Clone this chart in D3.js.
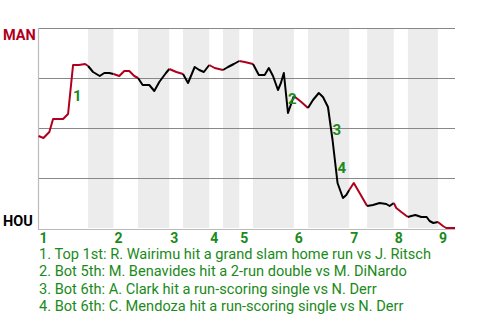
<!DOCTYPE html>
<head>
    <meta charset="utf-8">
    <title>Win probability</title>
    <style>
        body { margin: 0; background: #fff; }
        svg { display: block; font-family: Roboto, "Noto Sans", sans-serif; }
    </style>
</head>

<body>

<svg width="480" height="320"></svg>

<script src="https://d3js.org/d3.v7.min.js"></script>

<script>

    // teams: away at the top, home at the bottom
    var awayTeam = "MAN",
        homeTeam = "HOU";

    // game progress where each half inning starts (top 1st, bot 1st, ... top 9th, end)
    var halfStarts = [0, 11.9, 18.0, 23.9, 31.4, 34.7, 41.0, 44.3, 48.2, 51.5,
                      61.3, 64.7, 74.6, 78.9, 85.3, 88.7, 95.9, 100];

    var inningLabels = ["1", "2", "3", "4", "5", "6", "7", "8", "9"];

    // game progress of each point on the line
    var progress = [
        0, 1.2, 2.6, 3.5, 5.9, 7.1, 8.3, 9.7, 11.2, 11.9,
        13.1, 14.7, 15.8, 17.0, 18.0,
        19.4, 20.6, 21.8, 23.0, 23.9,
        25.0, 26.6, 27.8, 29.0, 30.6, 31.4,
        33.1, 34.7,
        35.9, 37.5, 38.6, 39.7, 41.0,
        42.3, 44.3,
        45.5, 46.9, 48.2,
        49.5, 51.5,
        52.9, 54.3, 55.3, 56.3, 57.5, 58.2, 58.9, 59.9, 61.3,
        63.1, 64.7,
        65.9, 67.3, 68.3, 69.5, 70.6, 71.8, 73.1, 73.9, 74.6,
        75.7, 77.1, 78.9,
        80.3, 81.9, 83.5, 84.3, 85.3,
        85.9, 87.1, 88.7,
        89.5, 90.5, 91.9, 93.2, 93.9, 94.8, 95.9,
        97.1, 97.9, 100
    ];

    // away team win probability at each point
    var winProb = [
        .46, .45, .48, .545, .545, .57, .815, .815, .82, .81,
        .78, .76, .775, .775, .77,
        .76, .785, .785, .76, .75,
        .715, .715, .685, .73, .775, .795,
        .78, .77,
        .725, .805, .79, .78, .815,
        .80, .79,
        .805, .82, .835,
        .83, .82,
        .765, .765, .80, .76, .69, .725, .775, .575, .66,
        .63, .60,
        .64, .675, .655, .605, .44, .225, .15, .165, .19,
        .225, .175, .11,
        .115, .125, .12, .11, .125,
        .10, .08, .055,
        .06, .065, .055, .055, .035, .025, .03,
        .01, 0, 0
    ];

    // key plays: where each one ends, and its description
    var keyPlayAt = [8.3, 59.9, 70.6, 71.8];
    var keyPlayText = [
        "Top 1st: R. Wairimu hit a grand slam home run vs J. Ritsch",
        "Bot 5th: M. Benavides hit a 2-run double vs M. DiNardo",
        "Bot 6th: A. Clark hit a run-scoring single vs N. Derr",
        "Bot 6th: C. Mendoza hit a run-scoring single vs N. Derr"
    ];

    var red = "#b0001e",
        green = "#1a8a1a";

    var svg = d3.select("svg"),
        margin = {top: 28, right: 25, bottom: 92, left: 38.5},
        width = +svg.attr("width") - margin.left - margin.right,
        height = +svg.attr("height") - margin.top - margin.bottom;

    var x = d3.scaleLinear().domain([0, 100]).range([margin.left, margin.left + width]),
        y = d3.scaleLinear().domain([0, 1]).range([margin.top + height, margin.top]);

    var points = progress.map(function(p, i) { return {x: p, y: winProb[i]}; });

    // shaded bottom halves
    var bottoms = d3.range(1, halfStarts.length - 1, 2);
    svg.append("g").selectAll("rect")
        .data(bottoms)
        .enter().append("rect")
        .attr("x", function(i) { return x(halfStarts[i]); })
        .attr("width", function(i) { return x(halfStarts[i + 1]) - x(halfStarts[i]); })
        .attr("y", y(1))
        .attr("height", y(0) - y(1))
        .attr("fill", "#ececec");

    // grid lines at 100/75/50/25
    svg.append("g").selectAll("line")
        .data([1, .75, .5, .25])
        .enter().append("line")
        .attr("x1", x(0)).attr("x2", x(100))
        .attr("y1", function(d) { return Math.round(y(d)) + .5; })
        .attr("y2", function(d) { return Math.round(y(d)) + .5; })
        .attr("stroke", "#888")
        .attr("stroke-width", 1);

    // left + bottom frame
    svg.append("path")
        .attr("d", "M" + x(0) + "," + y(1) + "V" + (y(0) + 1.5) + "H" + x(100))
        .attr("fill", "none")
        .attr("stroke", "#bbb")
        .attr("stroke-width", 1.2);

    // split the line into runs, one per half inning
    var runs = [];
    for (var h = 0; h < halfStarts.length - 1; h++) {
        var run = points.filter(function(p) { return p.x >= halfStarts[h] - 1e-6 && p.x <= halfStarts[h + 1] + 1e-6; });
        if (run.length > 1) runs.push({half: h, pts: run});
    }

    var line = d3.line()
        .x(function(d) { return x(d.x); })
        .y(function(d) { return y(d.y); });

    svg.append("g").selectAll("path")
        .data(runs)
        .enter().append("path")
        .attr("d", function(d) { return line(d.pts); })
        .attr("fill", "none")
        .attr("stroke", function(d) { return d.half % 2 === 0 ? red : "#000"; })
        .attr("stroke-width", 2)
        .attr("stroke-linejoin", "round");

    // numbered markers next to the key plays
    svg.append("g").selectAll("text")
        .data(keyPlayAt)
        .enter().append("text")
        .attr("x", function(d) { return x(d); })
        .attr("y", function(d) {
            var i = progress.indexOf(d);
            return (y(winProb[i]) + y(winProb[i - 1])) / 2 + 11;
        })
        .attr("fill", green)
        .style("font-size", "15px")
        .style("font-weight", "bold")
        .text(function(d, i) { return i + 1; });

    // team names
    svg.append("text")
        .attr("x", 3).attr("y", y(1) + 12)
        .attr("fill", red)
        .style("font-size", "14.5px").style("font-weight", "bold")
        .text(awayTeam);

    svg.append("text")
        .attr("x", 3).attr("y", y(0) - 2)
        .attr("fill", "#000")
        .style("font-size", "14.5px").style("font-weight", "bold")
        .text(homeTeam);

    // inning numbers at the start of each top half
    svg.append("g").selectAll("text")
        .data(inningLabels)
        .enter().append("text")
        .attr("x", function(d, i) { return x(halfStarts[i * 2]) + 1; })
        .attr("y", y(0) + 14.5)
        .attr("fill", green)
        .style("font-size", "14px").style("font-weight", "bold")
        .text(function(d) { return d; });

    // key play list
    svg.append("g").selectAll("text")
        .data(keyPlayText)
        .enter().append("text")
        .attr("x", 39)
        .attr("y", function(d, i) { return 258.5 + i * 17.5; })
        .attr("fill", green)
        .style("font-size", "14.6px")
        .text(function(d, i) { return (i + 1) + ". " + d; });

</script>

</body>
